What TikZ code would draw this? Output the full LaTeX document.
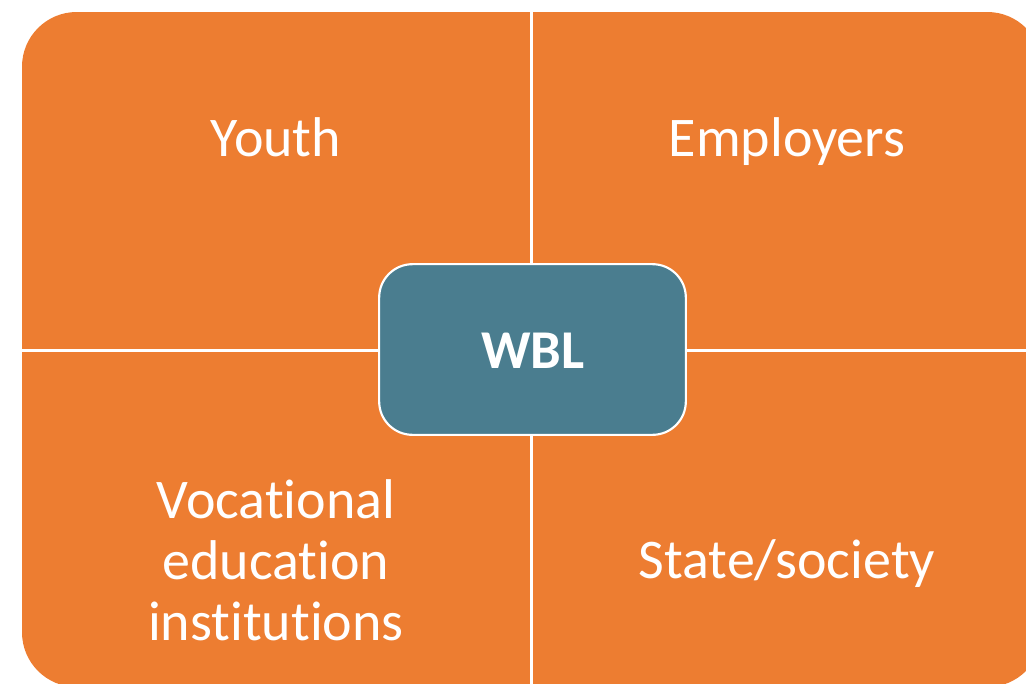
\documentclass[tikz,border=0pt]{standalone}
\usepackage{fontspec}
\setmainfont[Ligatures=NoCommon]{Carlito}
\definecolor{qorange}{HTML}{ED7D31}
\definecolor{qteal}{HTML}{4A7D8F}
\begin{document}
\begin{tikzpicture}[x=0.75pt,y=-0.75pt,
  lbl/.style={text=white,font=\fontsize{42}{45.4}\selectfont,align=center,inner sep=0pt},
  hub/.style={draw=white,line width=1.6pt,fill=qteal,rounded corners=25pt}]
\useasboundingbox (0,0) rectangle (1026,683);
\clip (0,0) rectangle (1026,683);
\fill[qorange,rounded corners=41pt] (22,12) rectangle (1042,687);
\draw[white,line width=2.3pt] (531.5,0) -- (531.5,690);
\draw[white,line width=2.3pt] (0,350.5) -- (1040,350.5);
\node[hub,minimum width=230pt,minimum height=128pt] (wbl) at (532.5,349.5) {};
\node[text=white,font=\fontsize{41}{46}\selectfont\bfseries,inner sep=0pt,anchor=base] (wbltext) at (533,368) {WBL};
\node[lbl,anchor=base] (youth) at (276,156) {Youth};
\node[lbl,anchor=base] (emp) at (787,156) {Employers};
\node[lbl,anchor=base] (state) at (787,578) {State/society};
\node[lbl,anchor=base] (voc) at (276,640) {Vocational\\education\\institutions};
\end{tikzpicture}
\end{document}
